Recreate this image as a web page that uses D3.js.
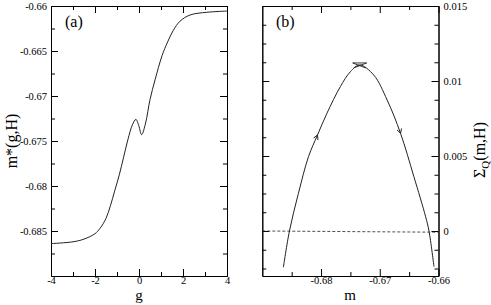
<!DOCTYPE html>
<html>
<head>
<meta charset="utf-8">
<script src="https://cdn.jsdelivr.net/npm/d3@7"></script>
<style>
  body { margin: 0; background: #fff; }
  svg { display: block; }
  .domain, .tick line { stroke: #000; stroke-width: 1; }
</style>
</head>
<body>
<div id="chart"></div>
<script>
// panel (a): m*(g,H) vs g
var gVals = [-4, -3, -2.5, -2, -1.77, -1.5, -1.3, -1.1, -0.9, -0.7, -0.5, -0.3, -0.14, -0.01, 0.12, 0.3, 0.5, 0.73, 1.05, 1.3, 1.56, 1.86, 2.32, 3.08, 4];
var mStar = [-0.6864, -0.6862, -0.6859, -0.6853, -0.6847, -0.6836, -0.6822, -0.6805, -0.6788, -0.6768, -0.6748, -0.6732, -0.6726, -0.6733, -0.6743, -0.6730, -0.6704, -0.6682, -0.6655, -0.6640, -0.6627, -0.6617, -0.6610, -0.6607, -0.66056];

// panel (b): Sigma_Q(m,H) vs m
var mVals = [-0.68641, -0.68538, -0.68385, -0.68214, -0.6806, -0.67899, -0.67672, -0.6750, -0.67342, -0.67103, -0.66874, -0.66646, -0.66419, -0.66219, -0.66162, -0.66077];
var sigmaQ = [-0.00242, 0, 0.00251, 0.00495, 0.0064, 0.00785, 0.00962, 0.01062, 0.01107, 0.0104, 0.00873, 0.00651, 0.00362, 0.00095, 0, -0.00238];
var zeroLineM = [-0.69, -0.66];
var zeroLineS = [0, -0.00008];
var arrowUpM = -0.6806, arrowDownM = -0.66646, peakM = -0.67342;

var aXTicks = [-4, -2, 0, 2, 4], aXMinor = [-3, -1, 1, 3];
var aYTicks = [-0.685, -0.68, -0.675, -0.67, -0.665, -0.66];
var aYMinor = [-0.6875, -0.6825, -0.6775, -0.6725, -0.6675, -0.6625];
var bXTicks = [-0.68, -0.67, -0.66], bXMinor = [-0.685, -0.675, -0.665];
var bYTicks = [0, 0.005, 0.01, 0.015];
var bYMinor = [-0.0025, -0.00125, 0.00125, 0.0025, 0.00375, 0.00625, 0.0075, 0.00875, 0.01125, 0.0125, 0.01375];

var W = 491, H = 305;
var SERIF = "'Liberation Serif', 'DejaVu Serif', serif";
var svg = d3.select("#chart").append("svg").attr("width", W).attr("height", H);

var fmt = function(d) { return String(+d.toFixed(4)); };

function styleAxis(g) {
  g.attr("font-family", SERIF).attr("font-size", 10.5);
  g.selectAll("text").attr("fill", "#000");
}

function frame(x, y, xt, xm, yt, ym, labelSide) {
  var x0 = x.range()[0], x1 = x.range()[1], y0 = y.range()[1], y1 = y.range()[0];
  // bottom
  svg.append("g").attr("transform", "translate(0," + y1 + ")")
      .call(d3.axisBottom(x).tickValues(xt).tickSize(-7).tickPadding(1).tickSizeOuter(0).tickFormat(fmt))
      .call(styleAxis);
  svg.append("g").attr("transform", "translate(0," + y1 + ")")
      .call(d3.axisBottom(x).tickValues(xm).tickSize(-4).tickSizeOuter(0).tickFormat(""));
  // top
  svg.append("g").attr("transform", "translate(0," + y0 + ")")
      .call(d3.axisTop(x).tickValues(xt).tickSize(-7).tickSizeOuter(0).tickFormat(""));
  svg.append("g").attr("transform", "translate(0," + y0 + ")")
      .call(d3.axisTop(x).tickValues(xm).tickSize(-4).tickSizeOuter(0).tickFormat(""));
  // left
  svg.append("g").attr("transform", "translate(" + x0 + ",0)")
      .call(d3.axisLeft(y).tickValues(yt).tickSize(-7).tickPadding(4).tickSizeOuter(0)
        .tickFormat(labelSide === "left" ? fmt : ""))
      .call(styleAxis);
  svg.append("g").attr("transform", "translate(" + x0 + ",0)")
      .call(d3.axisLeft(y).tickValues(ym).tickSize(-4).tickSizeOuter(0).tickFormat(""));
  // right
  svg.append("g").attr("transform", "translate(" + x1 + ",0)")
      .call(d3.axisRight(y).tickValues(yt).tickSize(-7).tickPadding(5).tickSizeOuter(0)
        .tickFormat(labelSide === "right" ? fmt : ""))
      .call(styleAxis);
  svg.append("g").attr("transform", "translate(" + x1 + ",0)")
      .call(d3.axisRight(y).tickValues(ym).tickSize(-4).tickSizeOuter(0).tickFormat(""));
}

function label(x, y, txt, anchor, rot, size) {
  var t = svg.append("text").attr("font-family", SERIF).attr("font-size", size || 16).attr("fill", "#000")
      .attr("text-anchor", anchor || "start");
  if (rot) t.attr("transform", "translate(" + x + "," + y + ") rotate(" + rot + ")");
  else t.attr("x", x).attr("y", y);
  if (txt) t.text(txt);
  return t;
}

// ---- panel (a)
var xa = d3.scaleLinear().domain([-4, 4]).range([51, 227]);
var ya = d3.scaleLinear().domain([-0.69, -0.66]).range([276, 6]);
frame(xa, ya, aXTicks, aXMinor, aYTicks, aYMinor, "left");

var lineA = d3.line().x(function(d, i) { return xa(gVals[i]); }).y(function(d) { return ya(d); })
    .curve(d3.curveCatmullRom.alpha(0.5));
svg.append("path").datum(mStar).attr("d", lineA)
    .attr("fill", "none").attr("stroke", "#222").attr("stroke-width", 1);

label(65, 27, "(a)");
label(139, 300, "g", "middle", null, 15);
label(17, 141, "m*(g,H)", "middle", -90);

// ---- panel (b)
var xb = d3.scaleLinear().domain([-0.69, -0.66]).range([262.3, 438.5]);
var yb = d3.scaleLinear().domain([-0.003, 0.015]).range([276, 6]);
frame(xb, yb, bXTicks, bXMinor, bYTicks, bYMinor, "right");

svg.append("path").datum(zeroLineS)
    .attr("d", d3.line().x(function(d, i) { return xb(zeroLineM[i]); }).y(function(d) { return yb(d); }))
    .attr("fill", "none").attr("stroke", "#222").attr("stroke-width", 0.8).attr("stroke-dasharray", "3,2");

var lineB = d3.line().x(function(d, i) { return xb(mVals[i]); }).y(function(d) { return yb(d); })
    .curve(d3.curveCatmullRom.alpha(0.5));
svg.append("path").datum(sigmaQ).attr("d", lineB)
    .attr("fill", "none").attr("stroke", "#222").attr("stroke-width", 1);

// arrowheads along the curve
var interpS = d3.scaleLinear().domain(mVals).range(sigmaQ);
function arrow(m) {
  var px = xb(m), py = yb(interpS(m));
  var qx = xb(m + 0.0004), qy = yb(interpS(m + 0.0004));
  var ang = Math.atan2(qy - py, qx - px);
  var L = 5, s = 0.5;
  var p = d3.path();
  p.moveTo(px - L * Math.cos(ang - s), py - L * Math.sin(ang - s));
  p.lineTo(px, py);
  p.lineTo(px - L * Math.cos(ang + s), py - L * Math.sin(ang + s));
  svg.append("path").attr("d", p.toString()).attr("fill", "none").attr("stroke", "#222").attr("stroke-width", 1);
}
arrow(arrowUpM);
arrow(arrowDownM);

// marker at the summit
(function() {
  var px = xb(peakM), py = yb(d3.max(sigmaQ));
  var p = d3.path();
  p.moveTo(px - 7, py - 2); p.lineTo(px + 7, py - 2);
  p.moveTo(px - 7, py - 2); p.lineTo(px + 6, py + 3);
  p.moveTo(px + 7, py - 2); p.lineTo(px - 6, py + 3);
  svg.append("path").attr("d", p.toString()).attr("fill", "none").attr("stroke", "#222").attr("stroke-width", 0.9);
})();

label(276, 27, "(b)");
label(350, 300, "m", "middle", null, 15);
var sl = label(485, 150, null, "middle", -90);
sl.append("tspan").text("\u03A3");
sl.append("tspan").attr("dy", 4).attr("font-size", 11).text("Q");
sl.append("tspan").attr("dy", -4).text("(m,H)");
</script>
</body>
</html>
